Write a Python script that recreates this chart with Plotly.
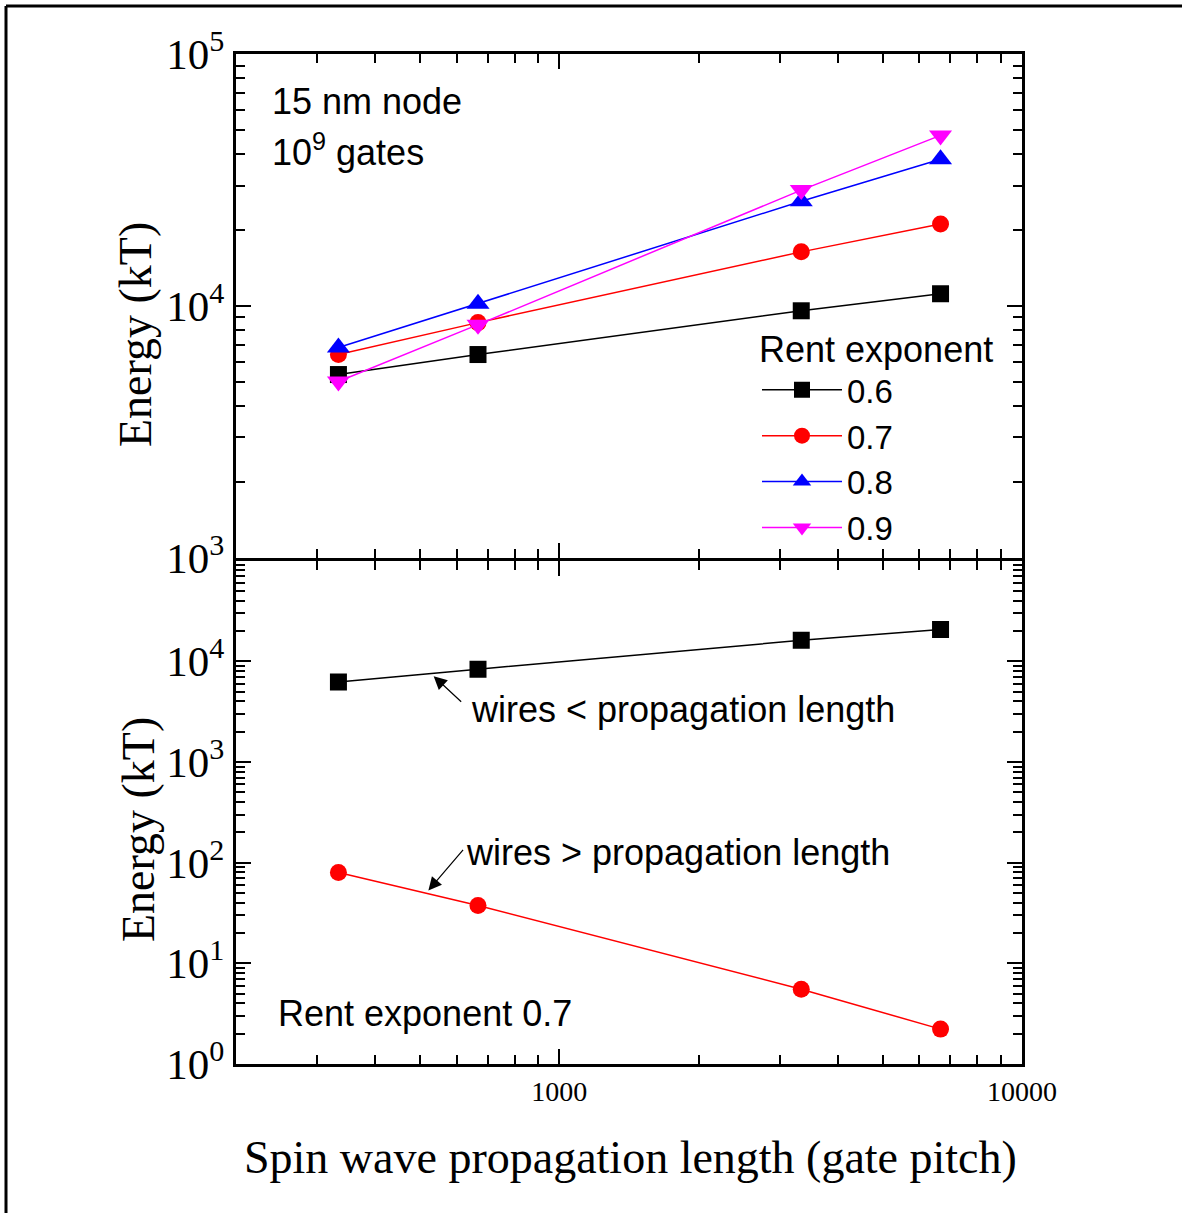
import numpy as np
import plotly.graph_objects as go

# ---------------- data ----------------
x_len = [333, 667, 3333, 6667]          # spin wave propagation length (gate pitch)
rent_labels = ["0.6", "0.7", "0.8", "0.9"]
e_06 = [5330, 6400, 9550, 11160]
e_07 = [6400, 8570, 16370, 21100]
e_08 = [6820, 10190, 26000, 38200]
e_09 = [5000, 8410, 28800, 47500]
short_wires = [6200, 8330, 16100, 20700]   # wires < propagation length
long_wires = [79.6, 37.5, 5.53, 2.22]      # wires > propagation length
x_ticks = [1000, 10000]
x_ticktext = ["1000", "10000"]
top_yticks = [1e3, 1e4, 1e5]
top_yticktext = ["10<sup>3</sup>", "10<sup>4</sup>", "10<sup>5</sup>"]
bot_yticks = [1e0, 1e1, 1e2, 1e3, 1e4]
bot_yticktext = ["10<sup>0</sup>", "10<sup>1</sup>", "10<sup>2</sup>", "10<sup>3</sup>", "10<sup>4</sup>"]

W, H = 1182, 1213
L, R, T, B = 236, 1022, 54, 1064
pw, ph = R - L, B - T

def px(xp):
    return (xp - L) / pw

def py(yp):
    return (B - yp) / ph

serif = "Liberation Serif, Times New Roman, serif"
sans = "Liberation Sans, Arial, sans-serif"

fig = go.Figure()

series = [(e_06, "black", "square", 17),
          (e_07, "red", "circle", 17),
          (e_08, "blue", "triangle-up", 20),
          (e_09, "magenta", "triangle-down", 20)]
for (vals, col, sym, sz), lab in zip(series, rent_labels):
    fig.add_trace(go.Scatter(x=x_len, y=vals, name=lab, mode="lines+markers",
                             line=dict(color=col, width=1.5),
                             marker=dict(symbol=sym, size=sz, color=col),
                             xaxis="x2", yaxis="y"))

fig.add_trace(go.Scatter(x=x_len, y=short_wires, mode="lines+markers", showlegend=False,
                         line=dict(color="black", width=1.5),
                         marker=dict(symbol="square", size=17, color="black"),
                         xaxis="x", yaxis="y2"))
fig.add_trace(go.Scatter(x=x_len, y=long_wires, mode="lines+markers", showlegend=False,
                         line=dict(color="red", width=1.5),
                         marker=dict(symbol="circle", size=17, color="red"),
                         xaxis="x", yaxis="y2"))

minor_common = dict(ticks="inside", ticklen=9, tickwidth=2, tickcolor="black",
                    dtick="D1", showgrid=False)
axis_common = dict(type="log", showline=True, linewidth=3, linecolor="black",
                   mirror="allticks", ticks="inside", ticklen=15, tickwidth=2,
                   tickcolor="black", showgrid=False, zeroline=False)

half = 1.5 / ph
xr = [np.log10(200), np.log10(10000)]
fig.update_layout(
    width=W, height=H,
    margin=dict(l=L, r=W - R, t=T, b=H - B),
    paper_bgcolor="white", plot_bgcolor="white",
    xaxis=dict(**axis_common, domain=[0, 1], anchor="y2", range=xr,
               tickvals=x_ticks, ticktext=x_ticktext,
               tickfont=dict(family=serif, size=28, color="black"),
               minor=minor_common),
    xaxis2=dict(**axis_common, domain=[0, 1], anchor="y", range=xr, matches="x",
                tickvals=x_ticks, showticklabels=False, minor=minor_common),
    yaxis=dict(**axis_common, domain=[0.5 + half, 1], anchor="x2", range=[3, 5],
               tickvals=top_yticks, ticktext=top_yticktext,
               tickfont=dict(family=serif, size=43, color="black"),
               minor=minor_common),
    yaxis2=dict(**axis_common, domain=[0, 0.5 - half], anchor="x", range=[0, 5],
                tickvals=bot_yticks, ticktext=bot_yticktext,
                tickfont=dict(family=serif, size=43, color="black"),
                minor=minor_common),
    legend=dict(x=px(757), y=py(315), xanchor="left", yanchor="top",
                bgcolor="rgba(0,0,0,0)", itemwidth=80,
                font=dict(family=sans, size=33, color="black"),
                title=dict(text="Rent exponent", side="top",
                           font=dict(family=sans, size=36, color="black"))),
    showlegend=True,
)

ann = []
def text_ann(text, xp, ypix, size=36, family=sans, anchor="left", angle=0):
    ann.append(dict(text=text, x=px(xp), y=py(ypix), xref="paper", yref="paper",
                    xanchor=anchor, yanchor="middle", showarrow=False, textangle=angle,
                    font=dict(family=family, size=size, color="black")))

text_ann("15 nm node", 270, 101)
text_ann("10<sup>9</sup> gates", 270, 150)
text_ann("Rent exponent 0.7", 276, 1013)
text_ann("wires &lt; propagation length", 469, 709)
text_ann("wires &gt; propagation length", 464, 852)
text_ann("Energy (kT)", 135, 335, size=46, family=serif, anchor="center", angle=-90)
text_ann("Energy (kT)", 138, 830, size=46, family=serif, anchor="center", angle=-90)
text_ann("Spin wave propagation length (gate pitch)", 630, 1157, size=46, family=serif, anchor="center")

# arrows (head position in data coordinates on the bottom panel)
ann.append(dict(x=np.log10(535), y=np.log10(7100), xref="x", yref="y2",
                ax=29, ay=27, axref="pixel", ayref="pixel", text="", showarrow=True,
                arrowhead=2, arrowsize=2.2, arrowwidth=1.2, arrowcolor="black"))
ann.append(dict(x=np.log10(521), y=np.log10(52.9), xref="x", yref="y2",
                ax=36, ay=-42, axref="pixel", ayref="pixel", text="", showarrow=True,
                arrowhead=2, arrowsize=2.2, arrowwidth=1.2, arrowcolor="black"))
fig.update_layout(annotations=ann)

# outer frame (left and top edges of the picture)
fig.add_shape(type="line", xref="paper", yref="paper", x0=px(6), x1=px(6), y0=py(6), y1=py(1220),
              line=dict(color="black", width=3))
fig.add_shape(type="line", xref="paper", yref="paper", x0=px(6), x1=px(1190), y0=py(6), y1=py(6),
              line=dict(color="black", width=3))

fig.write_html("out.html", config={"displayModeBar": False},
               post_script="document.body.style.margin='0px';document.body.style.overflow='hidden';")
